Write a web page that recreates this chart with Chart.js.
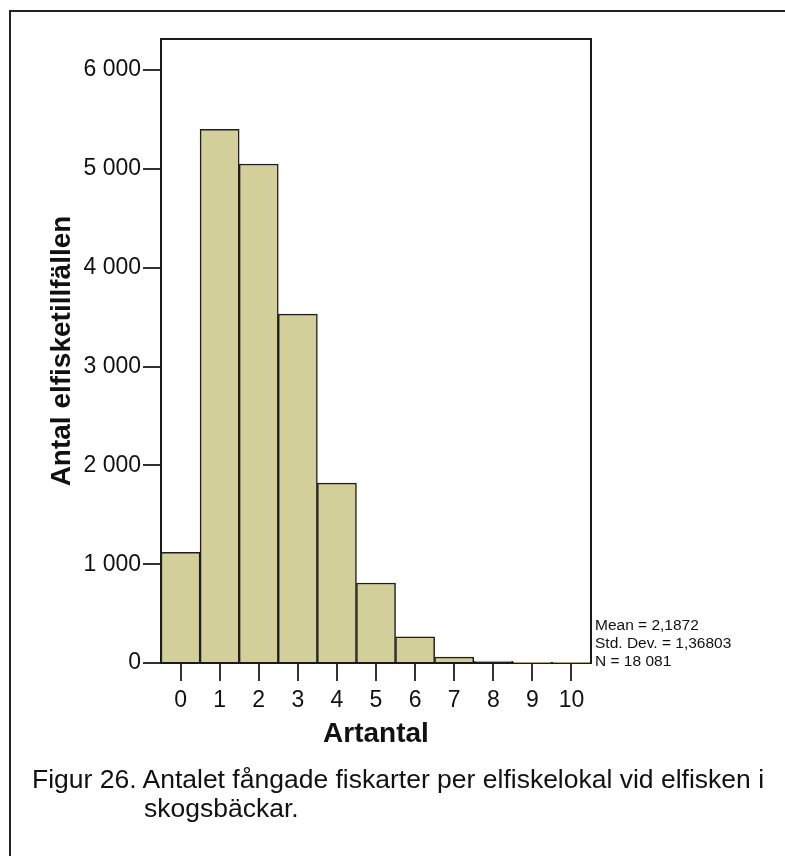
<!DOCTYPE html>
<html>
<head>
<meta charset="utf-8">
<script src="https://cdn.jsdelivr.net/npm/chart.js@4.4.1/dist/chart.umd.min.js"></script>
<style>
html,body{margin:0;padding:0;background:#fff;overflow:hidden;}
#wrap{position:relative;width:785px;height:856px;overflow:hidden;}
#frame{position:absolute;left:9px;top:10px;width:900px;height:1000px;border:2px solid #222;box-sizing:border-box;}
#c{position:absolute;left:0;top:0;}
#stats{position:absolute;left:595px;top:616px;font:15.5px/18px 'Liberation Sans',Arial,sans-serif;color:#111;white-space:nowrap;}
#caption{position:absolute;left:32px;top:765px;font:26.5px/29px 'Liberation Sans',Arial,sans-serif;color:#111;white-space:nowrap;}
#caption .l2{padding-left:112px;}
</style>
</head>
<body>
<div id="wrap">
  <div id="frame"></div>
  <canvas id="c" width="785" height="856"></canvas>
  <div id="stats"></div>
  <div id="caption"></div>
</div>
<script>
// ---- data ----
const categories = ['0','1','2','3','4','5','6','7','8','9','10'];
const counts = [1120, 5400, 5050, 3530, 1820, 810, 265, 60, 20, 3, 1];
const yTickValues = [0, 1000, 2000, 3000, 4000, 5000, 6000];
const yMax = 6315;
const xTitle = 'Artantal';
const yTitle = 'Antal elfisketillfällen';
const statsLines = ['Mean = 2,1872', 'Std. Dev. = 1,36803', 'N = 18 081'];
const captionLines = ['Figur 26. Antalet fångade fiskarter per elfiskelokal vid elfisken i', 'skogsbäckar.'];

// ---- text blocks ----
document.getElementById('stats').innerHTML = statsLines.join('<br>');
document.getElementById('caption').innerHTML =
  '<div>' + captionLines[0] + '</div><div class="l2">' + captionLines[1] + '</div>';

const FONT = "'Liberation Sans', Arial, Helvetica, sans-serif";
const fmt = v => String(v).replace(/\B(?=(\d{3})+(?!\d))/g, ' ');

const framePlugin = {
  id: 'frame',
  afterDraw(chart) {
    const {ctx, chartArea: a} = chart;
    ctx.save();
    ctx.strokeStyle = '#1a1a1a';
    ctx.lineWidth = 2;
    ctx.beginPath();
    ctx.moveTo(a.left, a.top);
    ctx.lineTo(a.right, a.top);
    ctx.lineTo(a.right, a.bottom);
    ctx.stroke();
    ctx.restore();
  }
};

new Chart(document.getElementById('c'), {
  type: 'bar',
  data: {
    labels: categories,
    datasets: [{
      data: counts,
      backgroundColor: '#d3cf9a',
      borderColor: '#1e1e1e',
      borderWidth: 1.5,
      categoryPercentage: 1.0,
      barPercentage: 1.0
    }]
  },
  options: {
    responsive: false,
    animation: false,
    devicePixelRatio: 1,
    layout: { padding: { left: 0, top: 39, right: 194, bottom: 0 } },
    plugins: { legend: { display: false }, tooltip: { enabled: false } },
    scales: {
      x: {
        grid: { offset: false, drawOnChartArea: false, drawTicks: true, tickLength: 18, tickColor: '#333', lineWidth: 2 },
        border: { display: true, color: '#1a1a1a', width: 2 },
        ticks: { color: '#111', font: { family: FONT, size: 23 }, padding: 6, maxRotation: 0, autoSkip: false },
        title: { display: true, text: xTitle, color: '#111', font: { family: FONT, size: 28, weight: 'bold' }, padding: { top: 0, bottom: 105 } },
        afterFit(scale) { scale.height = 193; }
      },
      y: {
        min: 0,
        max: yMax,
        afterBuildTicks(scale) { scale.ticks = yTickValues.map(v => ({ value: v })); },
        grid: { drawOnChartArea: false, drawTicks: true, tickLength: 18, tickColor: '#333', lineWidth: 2 },
        border: { display: true, color: '#1a1a1a', width: 2 },
        ticks: { color: '#111', font: { family: FONT, size: 23 }, padding: 2, callback: v => fmt(v) },
        title: { display: true, text: yTitle, color: '#111', font: { family: FONT, size: 28, weight: 'bold' }, padding: { top: 45, bottom: 0 } },
        afterFit(scale) { scale.width = 161; }
      }
    }
  },
  plugins: [framePlugin]
});
</script>
</body>
</html>
